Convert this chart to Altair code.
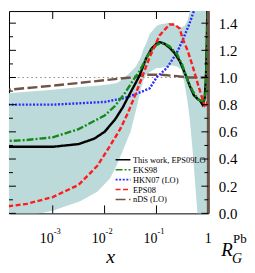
import altair as alt
import pandas as pd

# ---- data (x given as log10(x)) ----
series_names = ["This work, EPS09LO", "EKS98", "HKN07 (LO)", "EPS08", "nDS (LO)"]
series_colors = ["#000000", "#138a17", "#2b2bff", "#ff1c1c", "#6e5446"]
series_dashes = [[1, 0], [7, 2, 2, 2], [2, 1.6], [5, 2.5], [10, 3.5]]

eps09_lx = [-4, -3.5, -3, -2.5, -2.2, -2, -1.8, -1.65, -1.5, -1.4, -1.32, -1.2, -1.1, -1.0, -0.94,
            -0.85, -0.75, -0.65, -0.55, -0.45, -0.36, -0.28, -0.2, -0.16, -0.11, -0.07, -0.045, -0.03, -0.015]
eps09_y = [0.49, 0.49, 0.49, 0.51, 0.55, 0.6, 0.69, 0.78, 0.89, 0.96, 1.02, 1.14, 1.21, 1.25, 1.26,
           1.25, 1.22, 1.18, 1.12, 1.03, 0.94, 0.87, 0.84, 0.83, 0.80, 0.85, 1.0, 1.25, 1.6]

eks98_lx = [-4, -3.5, -3, -2.5, -2, -1.8, -1.6, -1.45, -1.32, -1.2, -1.1, -1.0, -0.94, -0.85, -0.75,
            -0.6, -0.5, -0.4, -0.3, -0.2, -0.14, -0.08, -0.05, -0.03, -0.015, 0]
eks98_y = [0.53, 0.54, 0.56, 0.62, 0.72, 0.79, 0.89, 0.98, 1.05, 1.14, 1.2, 1.24, 1.25, 1.25, 1.23,
           1.17, 1.09, 0.98, 0.9, 0.84, 0.83, 0.82, 0.9, 1.15, 1.42, 1.6]

hkn07_lx = [-4, -3, -2.5, -2, -1.6, -1.32, -1.13, -1.0, -0.8, -0.61, -0.5, -0.36, -0.27, -0.2]
hkn07_y = [0.80, 0.80, 0.81, 0.82, 0.85, 0.89, 0.92, 1.0, 1.07, 1.18, 1.27, 1.4, 1.5, 1.58]

eps08_lx = [-4, -3.5, -3, -2.5, -2.14, -1.89, -1.7, -1.55, -1.4, -1.32, -1.2, -1.13, -0.94, -0.75,
            -0.65, -0.55, -0.5, -0.4, -0.3, -0.2, -0.12, -0.07, -0.04, -0.015, 0]
eps08_y = [0.045, 0.07, 0.12, 0.21, 0.35, 0.5, 0.62, 0.74, 0.88, 0.96, 1.08, 1.15, 1.31, 1.39,
           1.39, 1.36, 1.29, 1.2, 1.08, 0.95, 0.85, 0.79, 0.78, 0.83, 0.9]

nds_lx = [-4, -3, -2, -1.5, -1.2, -0.9, -0.6, -0.4, -0.2, -0.05, -0.02, -0.01, 0]
nds_y = [0.905, 0.94, 0.98, 1.0, 1.02, 1.02, 1.01, 1.0, 1.0, 1.0, 1.1, 1.4, 1.6]

band_lx = [-4, -3.5, -3, -2.85, -2.47, -2.14, -1.89, -1.76, -1.64, -1.5, -1.4, -1.3, -1.26, -1.2,
           -1.13, -1.0, -0.94, -0.8, -0.7, -0.6, -0.52, -0.46, -0.4, -0.36, -0.3, -0.25, -0.21, -0.15, 0]
band_upper = [0.88, 0.895, 0.91, 0.915, 0.93, 0.94, 0.95, 0.96, 0.99, 1.04, 1.08, 1.15, 1.2, 1.25,
              1.32, 1.38, 1.39, 1.40, 1.40, 1.38, 1.37, 1.38, 1.42, 1.48, 1.6, 1.6, 1.6, 1.6, 1.6]
band_lower = [-0.05, -0.02, 0.02, 0.04, 0.09, 0.16, 0.26, 0.36, 0.47, 0.6, 0.75, 0.92, 0.97, 1.02,
              1.04, 1.07, 1.07, 1.08, 1.09, 1.08, 1.06, 0.96, 0.82, 0.7, 0.45, 0.2, 0.0, -0.1, -0.1]

y_major = [0.0, 0.2, 0.4, 0.6, 0.8, 1.0, 1.2, 1.4]
y_minor = [0.1, 0.3, 0.5, 0.7, 0.9, 1.1, 1.3]
x_decades = [0.001, 0.01, 0.1]
x_exponents = ["-3", "-2", "-1"]

# ---- build tables ----
rows = []
for name, lxs, yv_list in [
    (series_names[4], nds_lx, nds_y),
    (series_names[2], hkn07_lx, hkn07_y),
    (series_names[0], eps09_lx, eps09_y),
    (series_names[1], eks98_lx, eks98_y),
    (series_names[3], eps08_lx, eps08_y),
]:
    for i, (lx, yv) in enumerate(zip(lxs, yv_list)):
        rows.append({"series": name, "x": 10 ** lx, "y": yv, "i": i})
lines_df = pd.DataFrame(rows)
band_df = pd.DataFrame({"x": [10 ** v for v in band_lx], "lo": band_lower, "hi": band_upper})
one_df = pd.DataFrame({"v": [1.0]})

W, H = 201, 204
XMIN = 10 ** (-W / 52.3)
YMAX = H / 137.0
xs = alt.Scale(type="log", domain=[XMIN, 1.0], nice=False)
ys = alt.Scale(domain=[0, YMAX], nice=False, zero=False)
SERIF = "Liberation Serif"
y_axis = alt.Axis(
    orient="right", values=y_major, format=".1f", ticks=False, domain=False, grid=False,
    title=None, labelFont=SERIF, labelFontSize=15, labelPadding=10, labelColor="black",
    labelFlush=False)


def Y(field):
    return alt.Y(field, scale=ys, axis=y_axis)


def X(field):
    return alt.X(field, scale=xs, axis=None)


band = alt.Chart(band_df).mark_area(color="#bcdada", clip=True).encode(
    x=X("x:Q"), y=Y("lo:Q"), y2="hi:Q",
)

unity = alt.Chart(one_df).mark_rule(color="#8a8a8a", strokeDash=[1.5, 3], strokeWidth=1.2).encode(
    y=Y("v:Q"), x=alt.value(0), x2=alt.value(W)
)

lines = alt.Chart(lines_df).mark_line(clip=True, strokeWidth=2.4).encode(
    x=X("x:Q"),
    y=Y("y:Q"),
    order="i:Q",
    color=alt.Color("series:N", scale=alt.Scale(domain=series_names, range=series_colors),
                    legend=alt.Legend(title=None)),
    strokeDash=alt.StrokeDash("series:N", scale=alt.Scale(domain=series_names, range=series_dashes),
                              legend=alt.Legend(title=None)),
)

right_edge = alt.Chart(one_df).mark_rule(color="#6e5446", strokeWidth=3).encode(
    x=X("v:Q"), y=alt.value(0), y2=alt.value(H)
)

ymaj_df = pd.DataFrame({"v": y_major})
ymin_df = pd.DataFrame({"v": y_minor})
xdec_df = pd.DataFrame({"v": x_decades, "e": x_exponents})


def yticks(df, length):
    left = alt.Chart(df).mark_rule(color="black", strokeWidth=1).encode(
        y=Y("v:Q"), x=alt.value(0), x2=alt.value(length))
    right = alt.Chart(df).mark_rule(color="black", strokeWidth=1).encode(
        y=Y("v:Q"), x=alt.value(W - length), x2=alt.value(W))
    return [left, right]


xt_bottom = alt.Chart(xdec_df).mark_rule(color="black", strokeWidth=1).encode(
    x=X("v:Q"), y=alt.value(H - 8), y2=alt.value(H))
xt_top = alt.Chart(xdec_df).mark_rule(color="black", strokeWidth=1).encode(
    x=X("v:Q"), y=alt.value(0), y2=alt.value(8))

lab_base = alt.Chart(xdec_df).mark_text(font=SERIF, fontSize=14, align="right", baseline="alphabetic",
                                        dx=1, color="black").encode(
    x=X("v:Q"), y=alt.value(H + 30), text=alt.value("10"))
lab_exp = alt.Chart(xdec_df).mark_text(font=SERIF, fontSize=8.5, align="left", baseline="alphabetic",
                                       dx=1, color="black").encode(
    x=X("v:Q"), y=alt.value(H + 21), text="e:N")
lab_one = alt.Chart(one_df).mark_text(font=SERIF, fontSize=14, align="center", baseline="alphabetic",
                                      color="black").encode(
    x=X("v:Q"), y=alt.value(H + 30), text=alt.value("1"))


def label(txt, x, y, size, italic=False):
    kw = dict(font=SERIF, fontSize=size, align="left", baseline="alphabetic", color="black")
    if italic:
        kw["fontStyle"] = "italic"
    return alt.Chart(one_df).mark_text(**kw).encode(
        x=alt.value(x), y=alt.value(y), text=alt.value(txt))


x_title = label("x", 98, H + 50, 20, italic=True)
r_main = label("R", W + 13, H + 43, 19, italic=True)
r_sup = label("Pb", W + 25, H + 30, 13)
r_sub = label("G", W + 24, H + 50, 14, italic=True)

layers = [band, unity, lines, right_edge] + yticks(ymaj_df, 7) + yticks(ymin_df, 4) + [
    xt_bottom, xt_top, lab_base, lab_exp, lab_one, x_title, r_main, r_sup, r_sub]

chart = alt.layer(*layers).properties(
    width=W, height=H, padding=0
).configure_view(
    stroke="black", strokeWidth=1
).configure_legend(
    orient="none", legendX=108, legendY=143, symbolType="M-2,0L2,0", symbolSize=56,
    symbolStrokeWidth=1.6, labelFont=SERIF, labelFontSize=8.5, labelColor="black",
    rowPadding=0, padding=2, labelOffset=5, labelLimit=0,
)

chart.save("out.html", embed_options={"renderer": "svg", "actions": False})
